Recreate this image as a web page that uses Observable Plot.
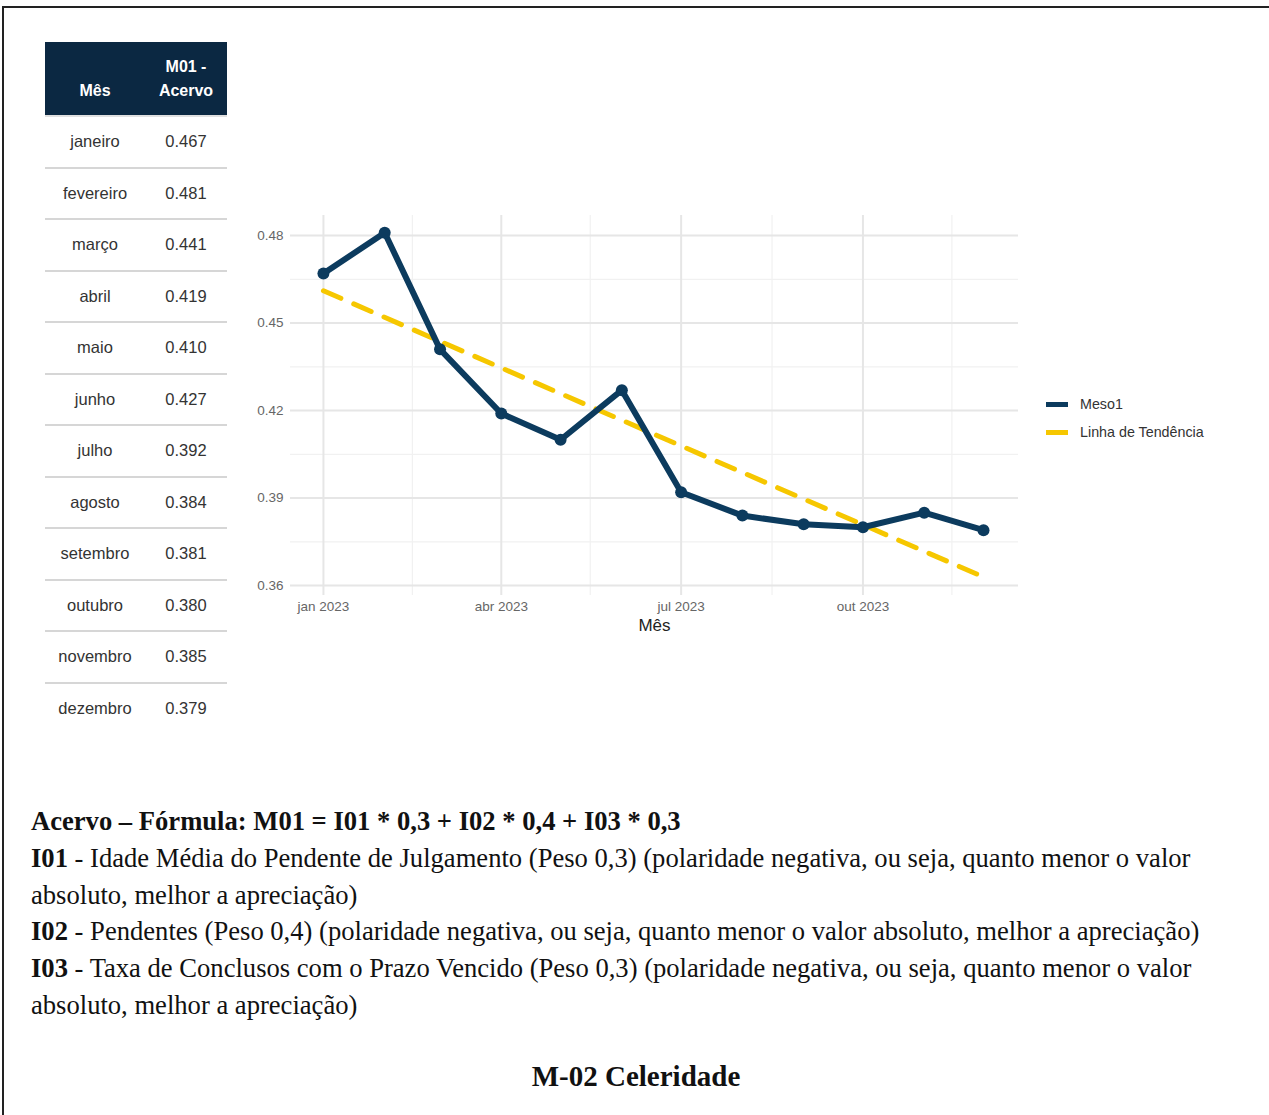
<!DOCTYPE html>
<html>
<head>
<meta charset="utf-8">
<script src="https://cdn.jsdelivr.net/npm/d3@7"></script>
<script src="https://cdn.jsdelivr.net/npm/@observablehq/plot@0.6"></script>
<style>
  html, body { margin: 0; padding: 0; background: #fff; }
  body { width: 1269px; height: 1115px; position: relative; overflow: hidden; font-family: "Liberation Sans", Arial, sans-serif; }
  #frame { position: absolute; left: 2px; top: 6px; width: 1300px; height: 1200px; border-left: 2px solid #222; border-top: 2px solid #222; }
  #tbl { position: absolute; left: 45px; top: 42px; width: 182px; border-collapse: collapse; font-size: 16.5px; color: #333; }
  #tbl th { background: #0b2842; color: #fff; font-weight: bold; font-size: 16px; height: 61px; vertical-align: bottom; padding: 0 0 12px 0; line-height: 24px; text-align: center; border-bottom: 2px solid #e0e0e0; }
  #tbl td { height: 49.5px; text-align: center; padding: 0; border-bottom: 2px solid #d6d6d6; }
  #tbl tr:last-child td { border-bottom: none; }
  #chart { position: absolute; left: 240px; top: 200px; }
  #legend { position: absolute; left: 1046px; top: 390px; font-size: 14.3px; color: #333; }
  .lg { height: 28px; display: flex; align-items: center; }
  .lg span.k { display: inline-block; width: 22px; height: 5px; margin-right: 12px; }
  #txt { position: absolute; left: 31px; top: 803px; font-family: "Liberation Serif", "Times New Roman", serif; font-size: 26.6px; line-height: 36.8px; color: #111; white-space: nowrap; }
  #txt b { font-weight: bold; }
  #m02 { position: absolute; left: 0; width: 1272px; top: 1060px; text-align: center; font-family: "Liberation Serif", "Times New Roman", serif; font-size: 29px; font-weight: bold; color: #111; }
</style>
</head>
<body>
<div id="frame"></div>
<table id="tbl"></table>
<div id="chart"></div>
<div id="legend"></div>
<div id="txt"></div>
<div id="m02"></div>
<script>
// ---- data ----
const meses = ["janeiro","fevereiro","março","abril","maio","junho","julho","agosto","setembro","outubro","novembro","dezembro"];
const datas = ["2023-01-01","2023-02-01","2023-03-01","2023-04-01","2023-05-01","2023-06-01","2023-07-01","2023-08-01","2023-09-01","2023-10-01","2023-11-01","2023-12-01"];
const valores = [0.467, 0.481, 0.441, 0.419, 0.410, 0.427, 0.392, 0.384, 0.381, 0.380, 0.385, 0.379];
const xTicks = ["2023-01-01","2023-04-01","2023-07-01","2023-10-01"];
const xTickLabels = ["jan 2023","abr 2023","jul 2023","out 2023"];
const xMinor = ["2023-02-15","2023-05-16","2023-08-16","2023-11-15"];
const yTicks = [0.36, 0.39, 0.42, 0.45, 0.48];
const yMinor = [0.375, 0.405, 0.435, 0.465];
const headers = ["Mês", "M01 -<br>Acervo"];
const seriesNames = ["Meso1", "Linha de Tendência"];
const seriesColors = ["#0c3b5e", "#f6c700"];
const textLines = [
  ["Acervo – Fórmula: M01 = I01 * 0,3 + I02 * 0,4 + I03 * 0,3", ""],
  ["I01", " - Idade Média do Pendente de Julgamento (Peso 0,3) (polaridade negativa, ou seja, quanto menor o valor"],
  ["", "absoluto, melhor a apreciação)"],
  ["I02", " - Pendentes (Peso 0,4) (polaridade negativa, ou seja, quanto menor o valor absoluto, melhor a apreciação)"],
  ["I03", " - Taxa de Conclusos com o Prazo Vencido (Peso 0,3) (polaridade negativa, ou seja, quanto menor o valor"],
  ["", "absoluto, melhor a apreciação)"]
];
const sectionTitle = "M-02 Celeridade";

// ---- table ----
const tbl = document.getElementById("tbl");
tbl.innerHTML = "<tr>" + headers.map(h => `<th>${h}</th>`).join("") + "</tr>" +
  meses.map((m, i) => `<tr><td style="width:100px">${m}</td><td>${valores[i].toFixed(3)}</td></tr>`).join("");

// ---- chart ----
const data = datas.map((d, i) => ({date: new Date(d), value: valores[i]}));
const lbl = new Map(xTicks.map((d, i) => [new Date(d).getTime(), xTickLabels[i]]));

const chart = Plot.plot({
  width: 790, height: 440,
  marginLeft: 50, marginRight: 12, marginTop: 15, marginBottom: 45,
  style: {fontFamily: "Liberation Sans, Arial, sans-serif", background: "transparent"},
  x: {type: "utc", domain: [new Date("2022-12-15T08:00Z"), new Date("2023-12-18T17:00Z")]},
  y: {domain: [0.3566, 0.4869]},
  marks: [
    Plot.ruleX(xMinor.map(d => new Date(d)), {stroke: "#f1f1f1", strokeWidth: 1.2}),
    Plot.ruleY(yMinor, {stroke: "#f1f1f1", strokeWidth: 1.2}),
    Plot.ruleX(xTicks.map(d => new Date(d)), {stroke: "#e6e6e6", strokeWidth: 2}),
    Plot.ruleY(yTicks, {stroke: "#e6e6e6", strokeWidth: 2}),
    Plot.linearRegressionY(data, {x: "date", y: "value", stroke: seriesColors[1], strokeWidth: 5, strokeDasharray: "19,14", ci: 0}),
    Plot.line(data, {x: "date", y: "value", stroke: seriesColors[0], strokeWidth: 6, strokeLinejoin: "round"}),
    Plot.dot(data, {x: "date", y: "value", r: 6, fill: seriesColors[0]}),
    Plot.axisX(xTicks.map(d => new Date(d)), {tickSize: 0, tickPadding: 6, tickFormat: d => lbl.get(d.getTime()), fontSize: 13.5, color: "#666", label: null}),
    Plot.axisY(yTicks, {tickSize: 0, tickPadding: 7, tickFormat: d => d.toFixed(2), fontSize: 13.5, color: "#666", label: null}),
    Plot.text(["Mês"], {frameAnchor: "bottom", dy: 35, fontSize: 17, fill: "#222"})
  ]
});
document.getElementById("chart").appendChild(chart);

// ---- legend ----
document.getElementById("legend").innerHTML = seriesNames.map((n, i) =>
  `<div class="lg"><span class="k" style="background:${seriesColors[i]}"></span>${n}</div>`).join("");

// ---- text ----
document.getElementById("txt").innerHTML = textLines.map(([b, t], i) =>
  i === 0 ? `<div><b>${b}</b></div>` : `<div>${b ? `<b>${b}</b>` : ""}${t}</div>`).join("");
document.getElementById("m02").textContent = sectionTitle;
</script>
</body>
</html>
